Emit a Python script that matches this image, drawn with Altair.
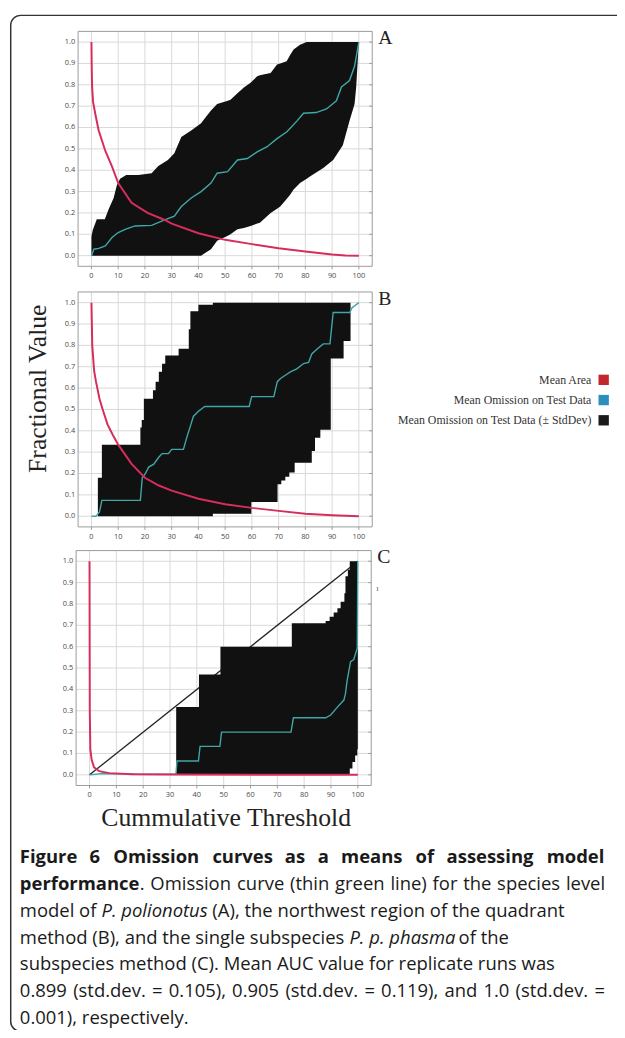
import altair as alt
import pandas as pd

# ---------------- data ----------------
x_ticks = [0, 10, 20, 30, 40, 50, 60, 70, 80, 90, 100]
y_ticks = [0.0, 0.1, 0.2, 0.3, 0.4, 0.5, 0.6, 0.7, 0.8, 0.9, 1.0]

# Panel A
a_band_x = [0, 0.5, 2, 5, 6.5, 8.3, 9.5, 10.7, 13, 17.5, 22.5, 25, 28.6, 31, 33.6,
            37.3, 41, 42.2, 44.7, 47, 51, 52, 54.6, 57, 59.5, 62, 63, 67, 69.4, 70.6,
            73, 74.3, 75.6, 78, 80.5, 81.7, 86.7, 90.4, 94, 96.5, 98.4, 99, 100]
a_band_hi = [0.09, 0.12, 0.17, 0.17, 0.22, 0.27, 0.33, 0.36, 0.378, 0.378, 0.386, 0.42,
             0.448, 0.48, 0.556, 0.586, 0.62, 0.64, 0.68, 0.71, 0.725, 0.73, 0.76, 0.787,
             0.81, 0.84, 0.845, 0.855, 0.895, 0.9, 0.91, 0.94, 0.965, 0.988, 1.0, 1.0,
             1.0, 1.0, 1.0, 1.0, 1.0, 1.0, 1.0]
a_band_lo = [0, 0, 0, 0, 0, 0, 0, 0, 0, 0, 0, 0, 0, 0, 0, 0, 0, 0.01, 0.03, 0.07,
             0.093, 0.1, 0.123, 0.13, 0.139, 0.15, 0.154, 0.2, 0.22, 0.23, 0.265, 0.285,
             0.31, 0.34, 0.36, 0.37, 0.41, 0.448, 0.517, 0.63, 0.71, 0.787, 1.0]
a_omit_x = [0, 0.9, 2.7, 5.2, 7.7, 10, 12.6, 16.3, 22.5, 27.4, 31, 33.6, 37.3, 41, 44.7,
            47, 50.9, 54.6, 58.3, 62, 65.7, 69.4, 73.1, 76.8, 79.3, 84, 87.9, 91.6, 93.5,
            96.5, 98.4, 100]
a_omit_y = [0, 0.03, 0.034, 0.046, 0.085, 0.108, 0.123, 0.139, 0.142, 0.167, 0.185, 0.23,
            0.27, 0.3, 0.34, 0.386, 0.393, 0.448, 0.455, 0.486, 0.51, 0.548, 0.58, 0.63,
            0.667, 0.67, 0.687, 0.725, 0.79, 0.82, 0.887, 1.0]
a_area_x = [0, 0.1, 0.25, 0.6, 1.5, 2.7, 5.2, 7.7, 10, 15, 21, 27.4, 30, 40, 50, 60, 70,
            80, 90, 95, 100]
a_area_y = [1.0, 0.88, 0.79, 0.72, 0.66, 0.586, 0.49, 0.417, 0.34, 0.247, 0.2, 0.167,
            0.15, 0.105, 0.074, 0.054, 0.035, 0.019, 0.005, 0.001, 0.0]

# Panel B
b_band_x = [2.4, 3.9, 18.3, 18.8, 19.6, 23.0, 24.0, 25.2, 26.4, 27.6, 32.6, 36.4, 37.0,
            40.0, 45.4, 59.8, 69.6, 71.0, 72.5, 74.0, 76.0, 82.4, 83.6, 85.6, 89.5, 94.3,
            96.9, 100]
b_band_lo = [0, 0, 0, 0, 0, 0, 0, 0, 0, 0, 0, 0, 0, 0, 0.012, 0.066, 0.15, 0.167, 0.185,
             0.205, 0.25, 0.305, 0.367, 0.405, 0.738, 0.82, 1.0, 1.0]
b_band_hi = [0.18, 0.335, 0.415, 0.45, 0.55, 0.59, 0.63, 0.676, 0.714, 0.753, 0.784,
             0.876, 0.96, 0.99, 1.0, 1.0, 1.0, 1.0, 1.0, 1.0, 1.0, 1.0, 1.0, 1.0, 1.0,
             1.0, 1.0, 1.0]
b_omit_x = [0, 1.7, 3.0, 3.9, 18.3, 19.0, 20.2, 21.4, 23.3, 25.1, 26.4, 28.8, 30.0, 34.4,
            35.6, 37.2, 38.1, 39.9, 42.4, 59.0, 59.9, 68.2, 69.5, 70.7, 72.5, 74.4, 76.8,
            79.3, 81.2, 82.4, 84.5, 86.7, 89.2, 90.4, 96.6, 97.5, 98.4, 100]
b_omit_y = [0, 0, 0.02, 0.074, 0.074, 0.18, 0.2, 0.23, 0.244, 0.275, 0.293, 0.293, 0.313,
            0.313, 0.367, 0.43, 0.467, 0.49, 0.514, 0.514, 0.56, 0.56, 0.63, 0.645, 0.66,
            0.676, 0.69, 0.715, 0.72, 0.76, 0.784, 0.807, 0.807, 0.954, 0.954, 0.977,
            0.985, 1.0]
b_area_x = [0, 0.3, 1, 1.7, 3, 4.2, 6, 7.9, 10, 15, 20, 25, 30, 40, 50, 60, 70, 80, 90, 100]
b_area_y = [1.0, 0.8, 0.68, 0.63, 0.55, 0.5, 0.43, 0.383, 0.335, 0.245, 0.18, 0.145, 0.12,
            0.082, 0.056, 0.039, 0.025, 0.012, 0.005, 0.0]

# Panel C
c_band_x = [32.3, 40.8, 48.8, 75.4, 88.0, 89.5, 91.0, 92.4, 93.6, 95.0, 95.4, 96.3, 97.0,
            98.0, 99.0, 99.8, 100]
c_band_lo = [0, 0, 0, 0, 0, 0, 0, 0, 0, 0, 0, 0, 0.03, 0.06, 0.09, 0.12, 0.12]
c_band_hi = [0.317, 0.47, 0.6, 0.71, 0.72, 0.74, 0.76, 0.78, 0.81, 0.85, 0.93, 0.96, 1.0,
             1.0, 1.0, 1.0, 1.0]
c_omit_x = [0, 5, 20, 32.2, 32.6, 40.6, 41.2, 48.6, 49.2, 75.1, 76.0, 88.0, 89.9, 92.4,
            94.8, 95.4, 96.0, 97.3, 98.5, 99.8, 100]
c_omit_y = [0, 0.006, 0.003, 0.003, 0.065, 0.065, 0.133, 0.133, 0.2, 0.2, 0.267, 0.267,
            0.28, 0.317, 0.35, 0.38, 0.44, 0.53, 0.54, 0.594, 1.0]
c_area_x = [0, 0.1, 0.3, 0.8, 1.7, 3.6, 7.3, 16, 28, 100]
c_area_y = [1.0, 0.3, 0.12, 0.07, 0.035, 0.017, 0.008, 0.003, 0.001, 0.0]
c_ref_x = [0, 100]
c_ref_y = [0, 1]

legend_labels = ["Mean Area", "Mean Omission on Test Data",
                 "Mean Omission on Test Data (\u00b1 StdDev)"]
legend_colors = ["#c4262e", "#2a8fbc", "#1a1a1a"]

# caption: each line is a list of (text, weight, style); justified flag per line
caption_lines = [
    ([("Figure 6 Omission curves as a means of assessing model", "bold", "normal")], True),
    ([("performance", "bold", "normal"),
      (". Omission curve (thin green line) for the species level", "normal", "normal")], True),
    ([("model of", "normal", "normal"), (" P. polionotus", "normal", "italic"),
      (" (A), the northwest region of the quadrant", "normal", "normal")], False),
    ([("method (B), and the single subspecies", "normal", "normal"),
      (" P. p. phasma", "normal", "italic"), (" of the", "normal", "normal")], False),
    ([("subspecies method (C). Mean AUC value for replicate runs was", "normal", "normal")], False),
    ([("0.899 (std.dev. = 0.105), 0.905 (std.dev. = 0.119), and 1.0 (std.dev. =",
       "normal", "normal")], True),
    ([("0.001), respectively.", "normal", "normal")], False),
]

# ---------------- style ----------------
GRID = "#d8d8d8"
FRAME = "#9a9a9a"
TICKTXT = "#4a4a4a"
BAND = "#111111"
OMIT = "#3fa8a7"
AREA = "#d62d5c"
SERIF = "Liberation Serif"
SANS = "Open Sans"

one = pd.DataFrame({"k": [0]})


def panel(xr, yr, bx, blo, bhi, binterp, ox, oy, ax, ay, letter, ref=None):
    left, right = xr
    bottom, top = yr
    xs = alt.Scale(domain=[-5, 105], range=[left, right], nice=False, zero=False)
    ys = alt.Scale(domain=[-0.05, 1.05], range=[bottom, top], nice=False, zero=False)
    xt = pd.DataFrame({"v": x_ticks})
    yt = pd.DataFrame({"v": y_ticks})
    X = lambda f: alt.X(f, scale=xs, axis=None)
    Y = lambda f: alt.Y(f, scale=ys, axis=None)
    L = []
    L.append(alt.Chart(xt).mark_rule(color=GRID, strokeWidth=1).encode(
        x=X("v:Q"), y=alt.value(top), y2=alt.value(bottom)))
    L.append(alt.Chart(yt).mark_rule(color=GRID, strokeWidth=1).encode(
        y=Y("v:Q"), x=alt.value(left), x2=alt.value(right)))
    L.append(alt.Chart(one).mark_rect(filled=False, color=FRAME, strokeWidth=1).encode(
        x=alt.value(left), x2=alt.value(right), y=alt.value(top), y2=alt.value(bottom)))
    L.append(alt.Chart(xt).mark_rule(color=FRAME, strokeWidth=1).encode(
        x=X("v:Q"), y=alt.value(bottom), y2=alt.value(bottom + 3)))
    L.append(alt.Chart(yt).mark_rule(color=FRAME, strokeWidth=1).encode(
        y=Y("v:Q"), x=alt.value(right - 3), x2=alt.value(right)))
    L.append(alt.Chart(xt).mark_text(font=SANS, fontSize=7.5, color=TICKTXT,
                                     baseline="middle", align="center").encode(
        x=X("v:Q"), y=alt.value(bottom + 10), text=alt.Text("v:Q", format="d")))
    L.append(alt.Chart(yt).mark_text(font=SANS, fontSize=7.5, color=TICKTXT,
                                     baseline="middle", align="right").encode(
        y=Y("v:Q"), x=alt.value(left - 3), text=alt.Text("v:Q", format=".1f")))
    if ref is not None:
        L.append(alt.Chart(pd.DataFrame({"x": ref[0], "y": ref[1]})).mark_line(
            color="#222222", strokeWidth=1.3).encode(x=X("x:Q"), y=Y("y:Q")))
    L.append(alt.Chart(pd.DataFrame({"x": bx, "lo": blo, "hi": bhi})).mark_area(
        color=BAND, opacity=1, interpolate=binterp).encode(
        x=X("x:Q"), y=Y("lo:Q"), y2="hi:Q"))
    L.append(alt.Chart(pd.DataFrame({"x": ox, "y": oy})).mark_line(
        color=OMIT, strokeWidth=1.4).encode(x=X("x:Q"), y=Y("y:Q")))
    L.append(alt.Chart(pd.DataFrame({"x": ax, "y": ay})).mark_line(
        color=AREA, strokeWidth=2).encode(x=X("x:Q"), y=Y("y:Q")))
    L.append(alt.Chart(one).mark_text(text=letter, font=SERIF, fontSize=20, color="#222",
                                      align="left", baseline="alphabetic").encode(
        x=alt.value(right + 6), y=alt.value(top + 13)))
    return L


layers = []
# outer border
layers.append(alt.Chart(one).mark_rect(filled=False, color="#333333", strokeWidth=1.5,
                                       cornerRadius=10).encode(
    x=alt.value(2.75), x2=alt.value(660), y=alt.value(0.75), y2=alt.value(1030)))

layers += panel((71, 369), (255, 17), a_band_x, a_band_lo, a_band_hi, "linear",
                a_omit_x, a_omit_y, a_area_x, a_area_y, "A")
layers += panel((71, 369), (519, 281), b_band_x, b_band_lo, b_band_hi, "step-after",
                b_omit_x, b_omit_y, b_area_x, b_area_y, "B")
layers += panel((69, 368), (781, 543), c_band_x, c_band_lo, c_band_hi, "step-after",
                c_omit_x, c_omit_y, c_area_x, c_area_y, "C", ref=(c_ref_x, c_ref_y))

# small stray mark right of panel C
layers.append(alt.Chart(one).mark_text(text="\u0131", font=SERIF, fontSize=9,
                                       color="#666", align="left",
                                       baseline="middle").encode(
    x=alt.value(373), y=alt.value(581)))

# axis titles
layers.append(alt.Chart(one).mark_text(text="Fractional Value", font=SERIF, fontSize=26,
                                       color="#222", angle=270, align="center",
                                       baseline="middle").encode(
    x=alt.value(30), y=alt.value(379)))
layers.append(alt.Chart(one).mark_text(text="Cummulative Threshold", font=SERIF,
                                       fontSize=26, color="#222", align="center",
                                       baseline="middle").encode(
    x=alt.value(221), y=alt.value(814)))

# legend
leg = pd.DataFrame({"label": legend_labels})
ly = alt.Y("label:N", scale=alt.Scale(type="point", domain=legend_labels,
                                      range=[370, 411], padding=0), axis=None)
lc = alt.Color("label:N", scale=alt.Scale(domain=legend_labels, range=legend_colors),
               legend=None)
layers.append(alt.Chart(leg).mark_text(font=SERIF, fontSize=12, color="#333",
                                       align="right", baseline="middle").encode(
    y=ly, x=alt.value(591), text="label:N"))
layers.append(alt.Chart(leg).mark_square(size=110, opacity=1, filled=True).encode(
    y=ly, x=alt.value(603.5), color=lc))

# ---------------- caption layout ----------------
CAP = 18.7
CAP_X0, CAP_X1 = 12, 605
CAP_Y0, CAP_DY = 854, 27.1

CW = {'a': .556, 'b': .613, 'c': .476, 'd': .613, 'e': .561, 'f': .336, 'g': .546,
      'h': .614, 'i': .252, 'j': .252, 'k': .526, 'l': .252, 'm': .931, 'n': .614,
      'o': .604, 'p': .613, 'q': .613, 'r': .408, 's': .477, 't': .353, 'u': .614,
      'v': .501, 'w': .778, 'x': .524, 'y': .502, 'z': .468,
      'A': .633, 'B': .648, 'C': .631, 'F': .516, 'M': .903, 'O': .781, 'P': .603,
      'U': .726, '.': .266, ',': .245, '(': .297, ')': .297, '=': .572, ' ': .26}


def est_w(text, weight, style):
    w = sum(CW.get(ch, .572 if ch.isdigit() else .62) for ch in text) * CAP
    if weight == "bold":
        w *= 1.07
    if style == "italic":
        w *= 0.94
    return w


def cap(text, x, y, weight, style):
    return alt.Chart(one).mark_text(text=text, font=SANS, fontSize=CAP, color="#1a1a1a",
                                    fontWeight=weight, fontStyle=style, align="left",
                                    baseline="middle").encode(
        x=alt.value(x), y=alt.value(y))


for li, (segs, justified) in enumerate(caption_lines):
    y = CAP_Y0 + li * CAP_DY
    tokens = []  # (text, weight, style, space_before)
    for text, weight, style in segs:
        lead = text.startswith(" ")
        if justified:
            words = text.strip().split(" ")
            for wi, wd in enumerate(words):
                tokens.append((wd, weight, style, lead if wi == 0 else True))
        else:
            tokens.append((text.strip(), weight, style, lead))
    nat = sum(est_w(t[0], t[1], t[2]) for t in tokens)
    nsp = sum(1 for i, t in enumerate(tokens) if i > 0 and t[3])
    nat += nsp * est_w(" ", "normal", "normal")
    extra = (CAP_X1 - CAP_X0 - nat) / nsp if (justified and nsp) else 0
    x = CAP_X0
    for i, (t, weight, style, sp) in enumerate(tokens):
        if i > 0 and sp:
            x += est_w(" ", "normal", "normal") + extra
        layers.append(cap(t, x, y, weight, style))
        x += est_w(t, weight, style)

chart = alt.layer(*layers).resolve_scale(
    x="independent", y="independent", color="independent"
).properties(
    width=617, height=1022, padding=0, autosize=alt.AutoSizeParams(type="none")
).configure_view(stroke=None)

chart.save("out.html", embed_options={"renderer": "svg", "actions": False})
